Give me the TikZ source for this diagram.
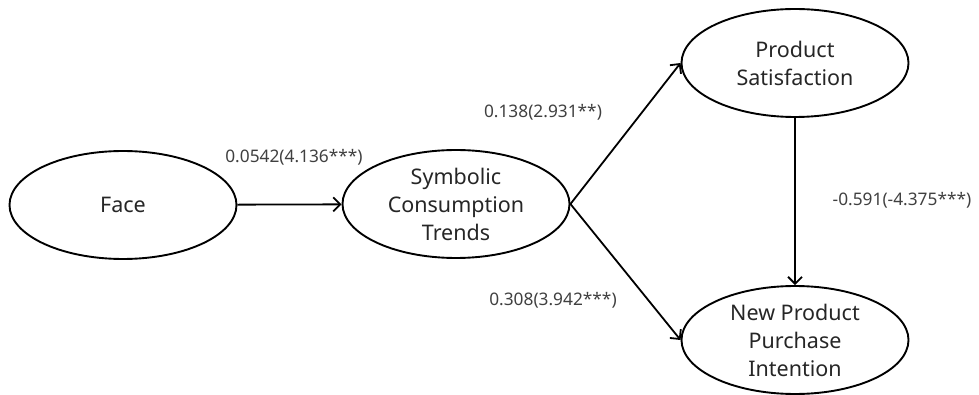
\documentclass[tikz,border=0pt]{standalone}
\usepackage{fontspec}
\setmainfont{Noto Sans}
\usetikzlibrary{arrows.meta,shapes.geometric}
\begin{document}
\begin{tikzpicture}[x=1pt,y=-1pt,
  construct/.style={ellipse,draw,line width=1.9pt,minimum width=227pt,minimum height=108pt,
    inner sep=0pt,align=center,font=\fontsize{21.5}{28}\selectfont,text=black!85},
  link/.style={draw,line width=1.8pt,-{Straight Barb[length=7pt,width=14pt,line width=1.8pt]}},
  coef/.style={font=\fontsize{17.3}{20}\selectfont,text=black!75}]
\useasboundingbox (0,0) rectangle (979,395);
\node[construct] (face) at (123,205) {Face};
\node[construct] (sym) at (456,204) {Symbolic\\Consumption\\Trends};
\node[construct] (sat) at (795,63) {Product\\Satisfaction};
\node[construct] (npi) at (795,340) {New Product\\Purchase\\Intention};
\draw[link] (face) -- (sym);
\draw[link] (sym.east) -- (sat.west);
\draw[link] (sym.east) -- (npi.west);
\draw[link] (sat) -- (npi);
\node[coef] (c1) at (294,157) {0.0542(4.136***)};
\node[coef] (c2) at (543,112) {0.138(2.931**)};
\node[coef] (c3) at (553,300) {0.308(3.942***)};
\node[coef] (c4) at (902,200) {-0.591(-4.375***)};
\end{tikzpicture}
\end{document}
